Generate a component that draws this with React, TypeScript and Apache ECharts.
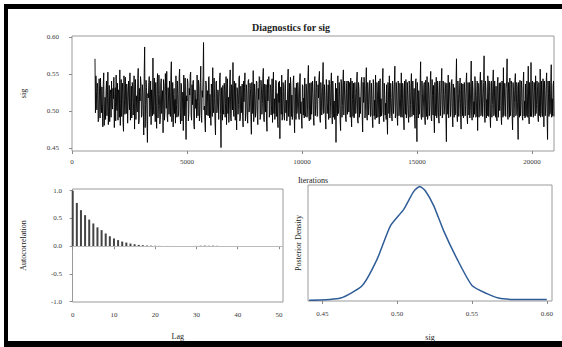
import React, { useEffect, useRef } from "react";
import * as echarts from "echarts";

// ---- Trace: thinned draws every 20 iterations from 1000 (A = even draws, B = odd draws) ----
const traceStart = 1000;
const traceThin = 20;
const traceValuesA = [
  0.571,0.548,0.502,0.531,0.489,0.522,0.545,0.498,0.512,0.536,0.481,0.519,0.527,0.494,0.553,0.507,0.486,0.529,0.541,0.503,
  0.517,0.478,0.532,0.549,0.501,0.488,0.524,0.556,0.511,0.493,0.538,0.473,0.515,0.546,0.497,0.528,0.484,0.519,0.552,0.506,
  0.491,0.534,0.512,0.476,0.543,0.521,0.499,0.558,0.487,0.514,0.537,0.495,0.526,0.468,0.587,0.509,0.532,0.458,0.518,0.547,
  0.503,0.482,0.529,0.572,0.496,0.515,0.539,0.477,0.551,0.508,0.523,0.489,0.544,0.512,0.471,0.535,0.499,0.527,0.554,0.486,
  0.518,0.541,0.493,0.567,0.505,0.479,0.531,0.516,0.548,0.492,0.524,0.501,0.557,0.483,0.536,0.511,0.474,0.529,0.545,0.462,
  0.514,0.538,0.497,0.522,0.553,0.488,0.509,0.542,0.476,0.528,0.516,0.549,0.494,0.533,0.502,0.561,0.485,0.519,0.593,0.507,
  0.472,0.536,0.512,0.494,0.547,0.523,0.481,0.531,0.559,0.498,0.517,0.468,0.541,0.506,0.527,0.489,0.552,0.451,0.519,0.535,
  0.496,0.528,0.511,0.482,0.544,0.519,0.501,0.556,0.487,0.532,0.566,0.493,0.514,0.538,0.475,0.525,0.509,0.548,0.491,0.521,
  0.537,0.479,0.513,0.552,0.498,0.526,0.484,0.543,0.507,0.531,0.469,0.518,0.555,0.495,0.524,0.503,0.539,0.482,0.516,0.546,
  0.492,0.529,0.511,0.558,0.486,0.521,0.536,0.473,0.514,0.547,0.499,0.532,0.508,0.485,0.553,0.517,0.496,0.541,0.524,0.478,
  0.512,0.463,0.533,0.549,0.501,0.527,0.488,0.542,0.515,0.494,0.557,0.506,0.481,0.535,0.522,0.497,0.548,0.471,0.519,0.538,
  0.504,0.526,0.489,0.551,0.513,0.477,0.534,0.518,0.545,0.493,0.529,0.502,0.562,0.487,0.516,0.539,0.496,0.524,0.481,0.547,
  0.509,0.532,0.494,0.518,0.554,0.485,0.527,0.503,0.566,0.498,0.521,0.476,0.543,0.512,0.489,0.536,0.507,0.552,0.483,0.525,
  0.514,0.491,0.458,0.531,0.548,0.502,0.519,0.474,0.537,0.508,0.556,0.495,0.523,0.486,0.541,0.513,0.499,0.528,0.545,0.479,
  0.516,0.538,0.492,0.524,0.507,0.553,0.484,0.531,0.519,0.497,0.546,0.472,0.512,0.535,0.501,0.559,0.488,0.526,0.509,0.542,
  0.495,0.521,0.478,0.537,0.515,0.549,0.491,0.528,0.504,0.483,0.544,0.517,0.499,0.558,0.486,0.523,0.511,0.536,0.469,0.527,
  0.548,0.502,0.519,0.487,0.533,0.512,0.561,0.494,0.526,0.481,0.539,0.506,0.517,0.552,0.492,0.529,0.475,0.514,0.543,0.498,
  0.522,0.485,0.536,0.509,0.551,0.496,0.518,0.531,0.477,0.544,0.459,0.513,0.528,0.502,0.567,0.489,0.524,0.507,0.539,0.482,
  0.516,0.547,0.493,0.529,0.506,0.554,0.487,0.521,0.535,0.471,0.512,0.546,0.498,0.527,0.484,0.541,0.509,0.558,0.495,0.523,
  0.503,0.536,0.459,0.514,0.549,0.491,0.528,0.505,0.543,0.479,0.519,0.532,0.497,0.571,0.486,0.524,0.511,0.545,0.476,0.518,
  0.537,0.494,0.526,0.508,0.552,0.483,0.517,0.539,0.501,0.568,0.488,0.529,0.513,0.547,0.492,0.521,0.474,0.535,0.506,0.553,
  0.497,0.524,0.511,0.575,0.485,0.532,0.516,0.548,0.493,0.527,0.478,0.541,0.509,0.556,0.496,0.519,0.534,0.487,0.546,0.514,
  0.501,0.538,0.482,0.525,0.559,0.494,0.517,0.531,0.571,0.489,0.522,0.545,0.503,0.536,0.475,0.528,0.512,0.551,0.496,0.533,
  0.462,0.519,0.542,0.506,0.529,0.488,0.553,0.514,0.537,0.495,0.524,0.561,0.483,0.518,0.566,0.501,0.539,0.492,0.527,0.548,
  0.509,0.533,0.486,0.521,0.557,0.497,0.515,0.544,0.479,0.528,0.506,0.552,0.462,0.524,0.541,0.499,0.563,0.517,0.535,0.493,
];
const traceValuesB = [
  0.498,0.527,0.538,0.486,0.544,0.491,0.509,0.533,0.479,0.552,0.504,0.489,0.541,0.517,0.482,0.535,0.523,0.492,0.508,0.531,
  0.546,0.512,0.487,0.505,0.538,0.529,0.492,0.481,0.543,0.526,0.485,0.548,0.496,0.509,0.537,0.484,0.541,0.502,0.488,0.534,
  0.539,0.495,0.548,0.527,0.489,0.506,0.544,0.483,0.531,0.547,0.492,0.536,0.501,0.552,0.478,0.542,0.487,0.524,0.539,0.493,
  0.541,0.529,0.494,0.507,0.545,0.486,0.512,0.534,0.491,0.549,0.483,0.537,0.497,0.528,0.543,0.488,0.551,0.504,0.493,0.532,
  0.496,0.507,0.548,0.486,0.539,0.523,0.497,0.484,0.509,0.541,0.493,0.546,0.499,0.538,0.487,0.526,0.549,0.494,0.503,0.521,
  0.544,0.487,0.531,0.549,0.495,0.536,0.541,0.482,0.529,0.504,0.491,0.513,0.542,0.487,0.539,0.494,0.528,0.547,0.502,0.486,
  0.541,0.495,0.528,0.546,0.491,0.502,0.537,0.493,0.508,0.545,0.484,0.539,0.498,0.529,0.489,0.545,0.496,0.532,0.488,0.503,
  0.538,0.492,0.547,0.529,0.497,0.485,0.541,0.491,0.536,0.502,0.499,0.541,0.488,0.503,0.532,0.496,0.545,0.487,0.534,0.498,
  0.493,0.541,0.532,0.487,0.536,0.494,0.541,0.499,0.538,0.491,0.539,0.497,0.486,0.537,0.492,0.541,0.496,0.531,0.547,0.489,
  0.542,0.496,0.548,0.489,0.537,0.499,0.487,0.543,0.531,0.492,0.536,0.495,0.544,0.531,0.497,0.489,0.542,0.493,0.487,0.539,
  0.541,0.532,0.496,0.488,0.539,0.494,0.536,0.498,0.487,0.541,0.493,0.538,0.546,0.493,0.489,0.541,0.496,0.532,0.489,0.497,
  0.539,0.492,0.541,0.497,0.488,0.536,0.495,0.491,0.499,0.537,0.492,0.546,0.493,0.538,0.489,0.496,0.541,0.492,0.538,0.494,
  0.541,0.493,0.536,0.545,0.491,0.539,0.495,0.541,0.497,0.536,0.489,0.543,0.497,0.536,0.542,0.491,0.538,0.496,0.541,0.492,
  0.489,0.538,0.531,0.494,0.497,0.539,0.487,0.543,0.492,0.539,0.495,0.541,0.489,0.537,0.496,0.541,0.539,0.492,0.494,0.541,
  0.493,0.491,0.539,0.497,0.541,0.488,0.539,0.492,0.497,0.541,0.493,0.539,0.546,0.491,0.538,0.492,0.539,0.495,0.541,0.493,
  0.538,0.491,0.543,0.494,0.489,0.497,0.539,0.492,0.541,0.536,0.493,0.494,0.541,0.492,0.538,0.495,0.489,0.492,0.539,0.497,
  0.491,0.538,0.493,0.541,0.497,0.539,0.491,0.539,0.493,0.541,0.494,0.538,0.492,0.496,0.538,0.491,0.541,0.496,0.491,0.539,
  0.494,0.541,0.492,0.537,0.493,0.541,0.495,0.489,0.542,0.494,0.539,0.491,0.496,0.539,0.493,0.541,0.492,0.536,0.491,0.542,
  0.493,0.489,0.539,0.494,0.541,0.491,0.543,0.495,0.491,0.539,0.494,0.491,0.541,0.492,0.539,0.494,0.538,0.491,0.541,0.496,
  0.539,0.492,0.538,0.496,0.491,0.539,0.493,0.541,0.494,0.537,0.492,0.495,0.539,0.496,0.541,0.493,0.539,0.492,0.538,0.494,
  0.491,0.539,0.494,0.541,0.493,0.539,0.495,0.491,0.539,0.494,0.541,0.492,0.496,0.539,0.493,0.541,0.538,0.492,0.539,0.494,
  0.542,0.493,0.539,0.495,0.541,0.491,0.494,0.539,0.541,0.493,0.538,0.492,0.539,0.494,0.541,0.492,0.494,0.539,0.492,0.538,
  0.539,0.494,0.541,0.492,0.494,0.538,0.493,0.541,0.496,0.539,0.492,0.494,0.541,0.493,0.539,0.492,0.541,0.494,0.539,0.493,
  0.539,0.492,0.494,0.541,0.493,0.539,0.494,0.491,0.493,0.541,0.492,0.496,0.539,0.493,0.493,0.541,0.492,0.539,0.494,0.497,
  0.541,0.493,0.539,0.494,0.492,0.541,0.493,0.539,0.541,0.494,0.539,0.492,0.541,0.493,0.496,0.539,0.492,0.494,0.541,0.493,
];
const traceXTicks = [0, 5000, 10000, 15000, 20000];
const traceYTicks = [0.45, 0.5, 0.55, 0.6];

// ---- Autocorrelation ----
const acfLags = [
  0,1,2,3,4,5,6,7,8,9,10,11,12,13,14,15,16,17,18,19,20,21,22,23,24,25,
  26,27,28,29,30,31,32,33,34,35,36,37,38,39,40,41,42,43,44,45,46,47,48,49,50,
];
const acfValues = [
  1.0,0.78,0.65,0.56,0.48,0.41,0.34,0.29,0.23,0.18,0.14,0.11,0.084,0.066,0.048,0.036,0.024,0.018,0.012,0.01,
  0.008,0.006,0.004,0.005,0.003,0.002,0.004,0.003,0.001,0.004,0.006,0.009,0.011,0.008,0.01,0.007,0.004,0.002,
  -0.002,0.001,0.003,0.002,-0.001,0.002,0.001,-0.002,0.001,0.002,0.0,-0.001,0.001,
];
const acfXTicks = [0, 10, 20, 30, 40, 50];
const acfYTicks = [-1, -0.5, 0, 0.5, 1];

// ---- Posterior density ----
const densityX = [
  0.4411,0.4622,0.4767,0.4867,0.4955,0.5044,0.5111,0.5151,0.5189,0.5244,
  0.5311,0.54,0.55,0.56,0.5678,0.5778,0.6,
];
const densityY = [
  0.15,0.65,3.4,9.2,16.4,20.0,23.9,25.0,24.0,20.8,
  15.3,9.2,3.4,1.6,0.65,0.35,0.3,
];
const densityXTicks = [0.45, 0.5, 0.55, 0.6];

const FONT = "Liberation Serif";
const TICK_COLOR = "#8a8a8a";
const LABEL_COLOR = "#3a3a3a";
const FRAME_COLOR = "#9a9a9a";

export default function App() {
  const ref = useRef<HTMLDivElement>(null);

  useEffect(() => {
    if (!ref.current) return;
    const chart = echarts.init(ref.current, undefined, { renderer: "svg" });

    const tracePairs: number[][] = [];
    traceValuesA.forEach((a, i) => {
      tracePairs.push([traceStart + 2 * i * traceThin, a]);
      tracePairs.push([traceStart + (2 * i + 1) * traceThin, traceValuesB[i]]);
    });
    const acfPairs = acfLags.map((l, i) => [l, acfValues[i]]);
    const densityPairs = densityX.map((x, i) => [x, densityY[i]]);

    const tickLabel = (margin: number, fmt: (v: number) => string, values: number[]) => ({
      customValues: values,
      margin,
      fontSize: 7,
      color: LABEL_COLOR,
      fontFamily: FONT,
      formatter: (v: number) => fmt(v),
    });
    const ticks = (values: number[]) => ({
      show: true,
      customValues: values,
      length: 3,
      inside: false,
      lineStyle: { color: TICK_COLOR, width: 1 },
    });
    const nameStyle = { fontSize: 8, color: "#222222", fontFamily: FONT };

    chart.setOption({
      animation: false,
      backgroundColor: "#ffffff",
      title: {
        text: "Diagnostics for sig",
        left: 286,
        top: 17,
        textAlign: "center",
        textStyle: { fontFamily: FONT, fontWeight: "bold", fontSize: 10, color: "#222222" },
      },
      grid: [
        { left: 72, top: 36, width: 482, height: 115, show: true, borderColor: FRAME_COLOR, borderWidth: 1, backgroundColor: "transparent", outerBoundsMode: "none" },
        { left: 72.5, top: 189, width: 210.5, height: 113, show: true, borderColor: FRAME_COLOR, borderWidth: 1, backgroundColor: "transparent", outerBoundsMode: "none" },
        { left: 308, top: 185, width: 244, height: 116, show: true, borderColor: FRAME_COLOR, borderWidth: 1, backgroundColor: "transparent", outerBoundsMode: "none" },
      ],
      xAxis: [
        {
          gridIndex: 0, type: "value", min: 0, max: 20960,
          axisLine: { show: false }, splitLine: { show: false },
          axisTick: ticks(traceXTicks),
          axisLabel: tickLabel(7, (v) => String(v), traceXTicks),
          name: "Iterations", nameLocation: "middle", nameGap: 25, nameTextStyle: nameStyle,
        },
        {
          gridIndex: 1, type: "value", min: -0.05, max: 50.97,
          axisLine: { show: false }, splitLine: { show: false },
          axisTick: ticks(acfXTicks),
          axisLabel: tickLabel(9.5, (v) => String(v), acfXTicks),
          name: "Lag", nameLocation: "middle", nameGap: 30, nameTextStyle: nameStyle,
        },
        {
          gridIndex: 2, type: "value", min: 0.4404, max: 0.6035,
          axisLine: { show: false }, splitLine: { show: false },
          axisTick: ticks(densityXTicks),
          axisLabel: tickLabel(9.5, (v) => v.toFixed(2), densityXTicks),
          name: "sig", nameLocation: "middle", nameGap: 32, nameTextStyle: nameStyle,
        },
      ],
      yAxis: [
        {
          gridIndex: 0, type: "value", min: 0.4464, max: 0.6018,
          axisLine: { show: false }, splitLine: { show: false },
          axisTick: ticks(traceYTicks),
          axisLabel: tickLabel(13, (v) => v.toFixed(2), traceYTicks),
          name: "sig", nameLocation: "middle", nameGap: 45, nameTextStyle: nameStyle,
        },
        {
          gridIndex: 1, type: "value", min: -1.005, max: 1.031,
          axisLine: { show: false }, splitLine: { show: false },
          axisTick: ticks(acfYTicks),
          axisLabel: tickLabel(10.5, (v) => v.toFixed(1), acfYTicks),
          name: "Autocorrelation", nameLocation: "middle", nameGap: 45, nameTextStyle: nameStyle,
        },
        {
          gridIndex: 2, type: "value", min: 0, max: 25.3,
          axisLine: { show: false }, splitLine: { show: false },
          axisTick: { show: false }, axisLabel: { show: false },
          name: "Posterior Density", nameLocation: "middle", nameGap: 6, nameTextStyle: nameStyle,
        },
      ],
      series: [
        {
          type: "line", xAxisIndex: 0, yAxisIndex: 0, data: tracePairs,
          showSymbol: false, symbol: "none", silent: true, sampling: undefined,
          lineStyle: { color: "#000000", width: 0.9 },
        },
        {
          type: "bar", xAxisIndex: 1, yAxisIndex: 1, data: acfPairs,
          barWidth: 2, silent: true,
          itemStyle: { color: "#444444" },
          markLine: {
            silent: true, symbol: "none", label: { show: false },
            lineStyle: { color: "#bbbbbb", width: 1, type: "solid" },
            data: [{ yAxis: 0 }],
          },
        },
        {
          type: "line", xAxisIndex: 2, yAxisIndex: 2, data: densityPairs,
          showSymbol: false, symbol: "none", silent: true, smooth: 0.2,
          lineStyle: { color: "#2f5d98", width: 1.5 },
        },
      ],
      graphic: [
        { type: "rect", shape: { x: 4, y: 4, width: 558, height: 5 }, style: { fill: "#000000" }, silent: true },
        { type: "rect", shape: { x: 4, y: 4, width: 4, height: 343 }, style: { fill: "#000000" }, silent: true },
        { type: "rect", shape: { x: 4, y: 341, width: 558, height: 6 }, style: { fill: "#000000" }, silent: true },
      ],
    });

    return () => chart.dispose();
  }, []);

  return (
    <div
      ref={ref}
      style={{ position: "absolute", left: 0, top: 0, width: 562, height: 347, background: "#fff" }}
    />
  );
}
